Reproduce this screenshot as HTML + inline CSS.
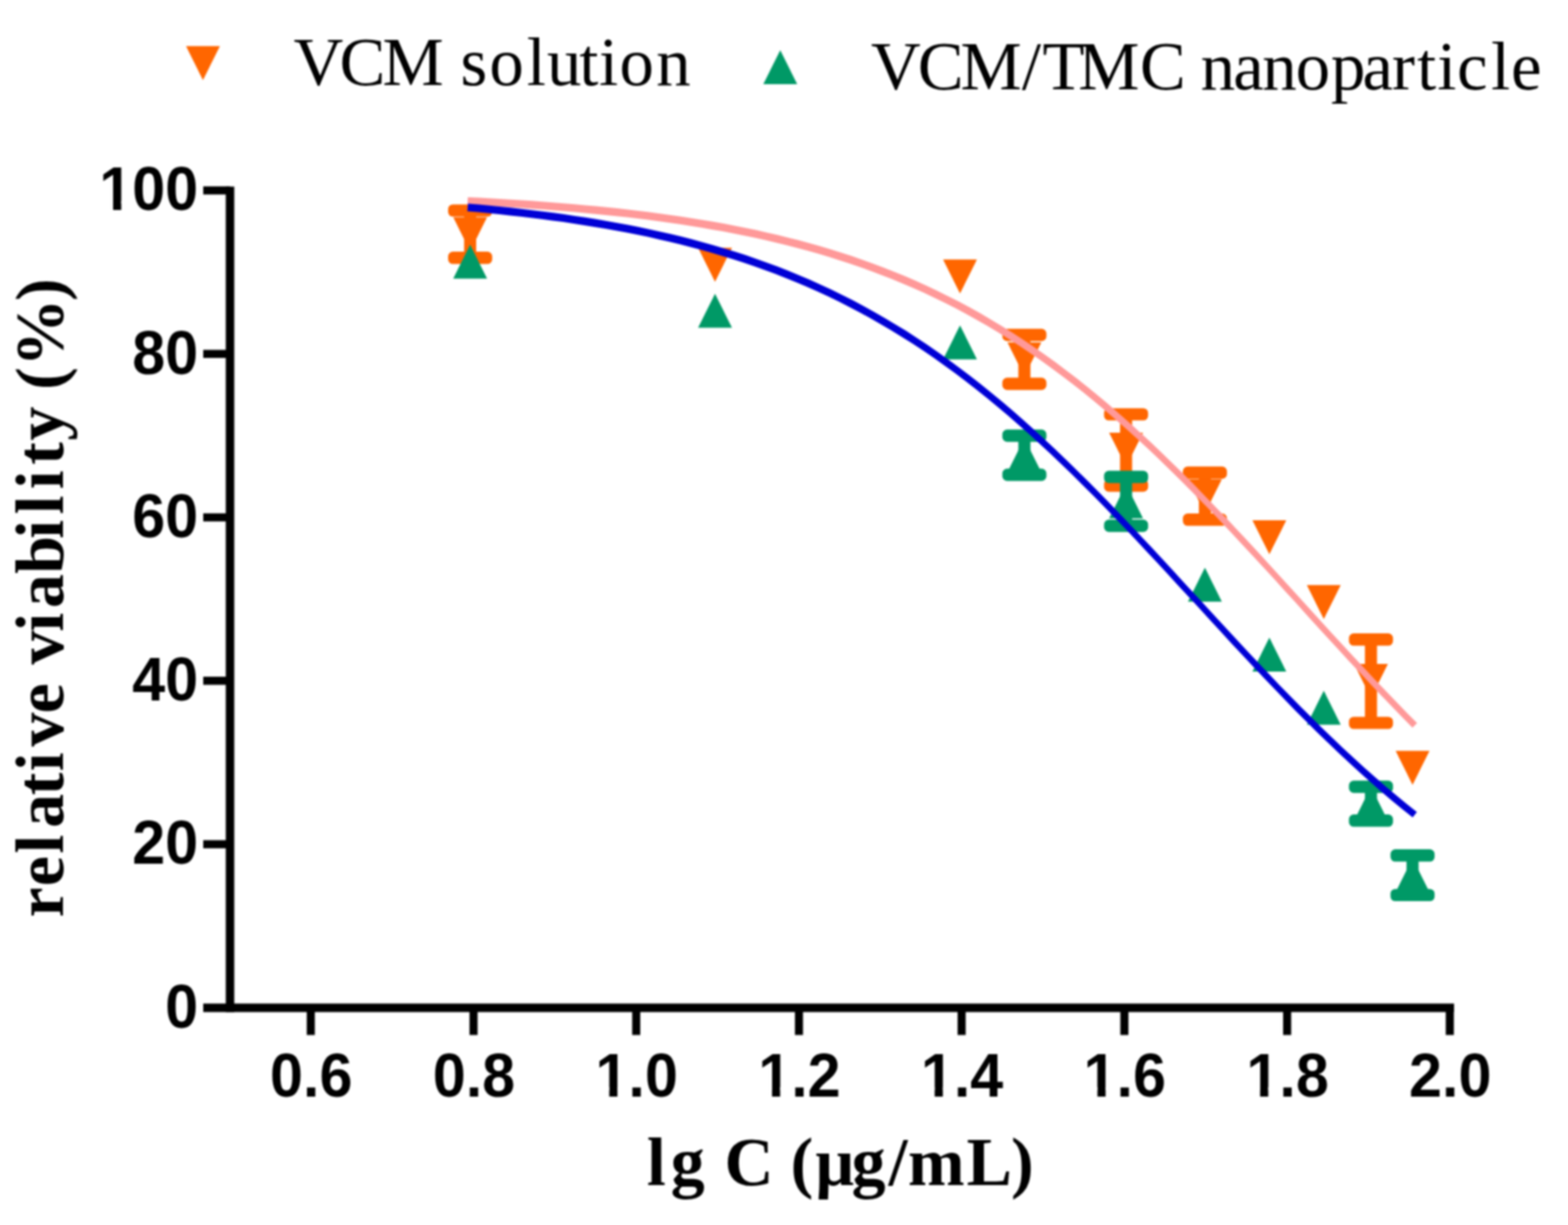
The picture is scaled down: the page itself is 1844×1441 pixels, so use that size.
<!DOCTYPE html>
<html lang="en">
<head>
<meta charset="utf-8">
<title>Relative viability vs lg C</title>
<style>
html,body{margin:0;padding:0;background:#fff;}
body{width:1844px;height:1441px;overflow:hidden;}
svg{display:block;}
.tick{font-family:"Liberation Sans",Arial,Helvetica,sans-serif;font-weight:700;font-size:71.5px;fill:#000;}
.leg{font-family:"Liberation Serif","Times New Roman",Times,serif;font-weight:400;font-size:81px;fill:#000;}
.ttl{font-family:"Liberation Serif","Times New Roman",Times,serif;font-weight:700;font-size:80px;fill:#000;}
</style>
</head>
<body>
<svg width="1844" height="1441" viewBox="0 0 1844 1441">
<defs><filter id="soft" x="0" y="0" width="1844" height="1441" filterUnits="userSpaceOnUse" color-interpolation-filters="sRGB"><feGaussianBlur stdDeviation="0.9"/></filter></defs>
<rect width="1844" height="1441" fill="#fff"/>
<g id="chart" filter="url(#soft)">
<rect x="-20" y="-20" width="1884" height="1481" fill="#fff"/>

<g id="legend">
<polygon points="218.8,54.3 258.6,54.3 238.7,94.3" fill="#FF6600"/>
<text class="leg" x="345.3 399.3 449.8 521.8 541.5 575.6 619.6 643.3 681.2 704.5 728.5 771.7" y="99.9">VCM solution</text>
<polygon points="897.7,99.0 937.5,99.0 917.6,59.0" fill="#009966"/>
<text class="leg" x="1024.3 1079.2 1129.4 1201.7 1225.9 1268.0 1340.6 1394.6 1411.9 1450.3 1484.4 1523.7 1565.3 1602.2 1637.1 1666.4 1690.2 1713.4 1753.4 1777.0" y="104.8">VCM/TMC nanoparticle</text>
</g>
<g id="axes" stroke="#000" fill="none">
<path d="M270.5,219.5V1190.4" stroke-width="10.0"/>
<path d="M239,1185.4H1710" stroke-width="10.0"/>
<path d="M239,993.1H270.5" stroke-width="9.5"/>
<path d="M239,800.8H270.5" stroke-width="9.5"/>
<path d="M239,608.6H270.5" stroke-width="9.5"/>
<path d="M239,416.3H270.5" stroke-width="9.5"/>
<path d="M239,224.0H270.5" stroke-width="9.5"/>
<path d="M365.5,1185.4V1217.5" stroke-width="9.5"/>
<path d="M556.9,1185.4V1217.5" stroke-width="9.5"/>
<path d="M748.2,1185.4V1217.5" stroke-width="9.5"/>
<path d="M939.6,1185.4V1217.5" stroke-width="9.5"/>
<path d="M1130.9,1185.4V1217.5" stroke-width="9.5"/>
<path d="M1322.3,1185.4V1217.5" stroke-width="9.5"/>
<path d="M1513.7,1185.4V1217.5" stroke-width="9.5"/>
<path d="M1705.0,1185.4V1217.5" stroke-width="9.5"/>
</g>
<g id="ylabels" class="tick" text-anchor="end">
<text transform="translate(233.1,1208.6) scale(0.975,1)">0</text>
<text transform="translate(233.1,1016.3) scale(0.975,1)">20</text>
<text transform="translate(233.1,824.0) scale(0.975,1)">40</text>
<text transform="translate(233.1,631.8) scale(0.975,1)">60</text>
<text transform="translate(233.1,439.5) scale(0.975,1)">80</text>
<text transform="translate(233.1,247.2) scale(0.975,1)">100</text>
</g>
<g id="xlabels" class="tick" text-anchor="middle">
<text transform="translate(366.0,1289.5) scale(0.975,1)">0.6</text>
<text transform="translate(557.4,1289.5) scale(0.975,1)">0.8</text>
<text transform="translate(748.7,1289.5) scale(0.975,1)">1.0</text>
<text transform="translate(940.1,1289.5) scale(0.975,1)">1.2</text>
<text transform="translate(1131.4,1289.5) scale(0.975,1)">1.4</text>
<text transform="translate(1322.8,1289.5) scale(0.975,1)">1.6</text>
<text transform="translate(1514.2,1289.5) scale(0.975,1)">1.8</text>
<text transform="translate(1705.5,1289.5) scale(0.975,1)">2.0</text>
</g>
<g id="digit-trim">
<rect x="119.8" y="236.5" width="13.2" height="12.5" fill="#fff"/><rect x="142.6" y="236.5" width="12.4" height="12.5" fill="#fff"/>
<rect x="703.3" y="1278.8" width="13.2" height="12.5" fill="#fff"/><rect x="726.1" y="1278.8" width="12.4" height="12.5" fill="#fff"/>
<rect x="894.7" y="1278.8" width="13.2" height="12.5" fill="#fff"/><rect x="917.5" y="1278.8" width="12.4" height="12.5" fill="#fff"/>
<rect x="1086.0" y="1278.8" width="13.2" height="12.5" fill="#fff"/><rect x="1108.8" y="1278.8" width="12.4" height="12.5" fill="#fff"/>
<rect x="1277.4" y="1278.8" width="13.2" height="12.5" fill="#fff"/><rect x="1300.2" y="1278.8" width="12.4" height="12.5" fill="#fff"/>
<rect x="1468.7" y="1278.8" width="13.2" height="12.5" fill="#fff"/><rect x="1491.5" y="1278.8" width="12.4" height="12.5" fill="#fff"/>
</g>
<text class="ttl" transform="translate(73.6,0) rotate(-90)" x="-1079.3 -1042.5 -1003.9 -973.7 -935.6 -907.2 -878.2 -839.3 -803.8 -781.8 -743.0 -715.2 -675.0 -633.7 -605.1 -575.6 -546.8 -518.3 -478.3 -458.4 -431.2 -354.1" y="0">relative viability (%)</text>
<text class="ttl" x="760.8 788.7 828.7 852.1 909.8 929.8 959.0 1001.5 1044.9 1067.8 1136.8 1189.0" y="1394.3">lg C (μg/mL)</text>
<g id="vcm">
<path d="M552.9,247.6V303.3" stroke="#FF6600" stroke-width="14.2" fill="none"/><rect x="527.0" y="240.4" width="51.8" height="14.4" rx="5.5" ry="5.5" fill="#FF6600"/><rect x="527.0" y="296.1" width="51.8" height="14.4" rx="5.5" ry="5.5" fill="#FF6600"/>
<polygon points="533.0,255.4 572.8,255.4 552.9,295.4" fill="#FF6600"/>
<polygon points="821.0,291.6 860.8,291.6 840.9,331.6" fill="#FF6600"/>
<polygon points="1109.1,305.3 1148.9,305.3 1129.0,345.3" fill="#FF6600"/>
<path d="M1204.7,394.0V451.5" stroke="#FF6600" stroke-width="14.2" fill="none"/><rect x="1178.8" y="386.8" width="51.8" height="14.4" rx="5.5" ry="5.5" fill="#FF6600"/><rect x="1178.8" y="444.3" width="51.8" height="14.4" rx="5.5" ry="5.5" fill="#FF6600"/>
<polygon points="1184.8,402.8 1224.6,402.8 1204.7,442.8" fill="#FF6600"/>
<path d="M1324.3,487.4V571.2" stroke="#FF6600" stroke-width="14.2" fill="none"/><rect x="1298.4" y="480.2" width="51.8" height="14.4" rx="5.5" ry="5.5" fill="#FF6600"/><rect x="1298.4" y="564.0" width="51.8" height="14.4" rx="5.5" ry="5.5" fill="#FF6600"/>
<polygon points="1304.4,509.0 1344.2,509.0 1324.3,549.0" fill="#FF6600"/>
<path d="M1417.0,556.0V611.3" stroke="#FF6600" stroke-width="14.2" fill="none"/><rect x="1391.1" y="548.8" width="51.8" height="14.4" rx="5.5" ry="5.5" fill="#FF6600"/><rect x="1391.1" y="604.1" width="51.8" height="14.4" rx="5.5" ry="5.5" fill="#FF6600"/>
<polygon points="1397.1,563.7 1436.9,563.7 1417.0,603.7" fill="#FF6600"/>
<polygon points="1472.9,612.0 1512.7,612.0 1492.8,652.0" fill="#FF6600"/>
<polygon points="1536.9,688.3 1576.7,688.3 1556.8,728.3" fill="#FF6600"/>
<path d="M1612.3,752.3V850.4" stroke="#FF6600" stroke-width="14.2" fill="none"/><rect x="1586.4" y="745.1" width="51.8" height="14.4" rx="5.5" ry="5.5" fill="#FF6600"/><rect x="1586.4" y="843.2" width="51.8" height="14.4" rx="5.5" ry="5.5" fill="#FF6600"/>
<polygon points="1592.4,781.0 1632.2,781.0 1612.3,821.0" fill="#FF6600"/>
<polygon points="1641.3,883.2 1681.1,883.2 1661.2,923.2" fill="#FF6600"/>
</g>
<g id="tmc">
<polygon points="533.0,327.7 572.8,327.7 552.9,287.7" fill="#009966"/>
<polygon points="821.0,385.6 860.8,385.6 840.9,345.6" fill="#009966"/>
<polygon points="1109.1,422.7 1148.9,422.7 1129.0,382.7" fill="#009966"/>
<path d="M1204.7,512.5V558.5" stroke="#009966" stroke-width="14.2" fill="none"/><rect x="1178.8" y="505.3" width="51.8" height="14.4" rx="5.5" ry="5.5" fill="#009966"/><rect x="1178.8" y="551.3" width="51.8" height="14.4" rx="5.5" ry="5.5" fill="#009966"/>
<polygon points="1184.8,555.5 1224.6,555.5 1204.7,515.5" fill="#009966"/>
<path d="M1324.3,561.0V618.5" stroke="#009966" stroke-width="14.2" fill="none"/><rect x="1298.4" y="553.8" width="51.8" height="14.4" rx="5.5" ry="5.5" fill="#009966"/><rect x="1298.4" y="611.3" width="51.8" height="14.4" rx="5.5" ry="5.5" fill="#009966"/>
<polygon points="1304.4,609.8 1344.2,609.8 1324.3,569.8" fill="#009966"/>
<polygon points="1397.1,707.8 1436.9,707.8 1417.0,667.8" fill="#009966"/>
<polygon points="1472.9,790.0 1512.7,790.0 1492.8,750.0" fill="#009966"/>
<polygon points="1536.9,852.4 1576.7,852.4 1556.8,812.4" fill="#009966"/>
<path d="M1612.3,925.5V965.3" stroke="#009966" stroke-width="14.2" fill="none"/><rect x="1586.4" y="918.3" width="51.8" height="14.4" rx="5.5" ry="5.5" fill="#009966"/><rect x="1586.4" y="958.1" width="51.8" height="14.4" rx="5.5" ry="5.5" fill="#009966"/>
<polygon points="1592.4,965.4 1632.2,965.4 1612.3,925.4" fill="#009966"/>
<path d="M1661.2,1006.3V1052.9" stroke="#009966" stroke-width="14.2" fill="none"/><rect x="1635.3" y="999.1" width="51.8" height="14.4" rx="5.5" ry="5.5" fill="#009966"/><rect x="1635.3" y="1045.7" width="51.8" height="14.4" rx="5.5" ry="5.5" fill="#009966"/>
<polygon points="1641.3,1049.6 1681.1,1049.6 1661.2,1009.6" fill="#009966"/>
</g>
<polygon points="550.2,231.9 562.8,232.5 575.3,233.2 587.8,233.9 600.3,234.7 612.9,235.5 625.4,236.3 637.9,237.2 650.5,238.2 663.0,239.2 675.5,240.3 688.1,241.4 700.6,242.6 713.2,243.8 725.7,245.1 738.2,246.5 750.8,248.0 763.3,249.6 775.9,251.2 788.4,252.9 801.0,254.8 813.5,256.7 826.1,258.7 838.6,260.8 851.2,263.1 863.7,265.5 876.3,268.0 888.9,270.6 901.4,273.4 914.0,276.3 926.6,279.4 939.1,282.6 951.7,286.0 964.3,289.5 976.8,293.3 989.4,297.2 1002.0,301.3 1014.5,305.7 1027.1,310.2 1039.7,314.9 1052.3,319.9 1064.8,325.1 1077.4,330.6 1090.0,336.2 1102.6,342.2 1115.1,348.4 1127.7,354.8 1140.3,361.6 1152.9,368.6 1165.4,375.9 1178.0,383.5 1190.5,391.3 1203.1,399.5 1215.7,408.0 1228.2,416.7 1240.8,425.8 1253.3,435.2 1265.9,444.8 1278.4,454.8 1290.9,465.1 1303.5,475.6 1316.0,486.4 1328.5,497.6 1341.1,509.0 1353.6,520.6 1366.1,532.5 1378.7,544.7 1391.2,557.0 1403.7,569.6 1416.2,582.4 1428.7,595.4 1441.3,608.6 1453.8,621.9 1466.3,635.3 1478.8,648.8 1491.3,662.5 1503.8,676.2 1516.4,689.9 1528.9,703.7 1541.4,717.4 1553.9,731.2 1566.4,744.9 1578.9,758.5 1591.4,772.1 1604.0,785.6 1616.5,798.9 1629.0,812.1 1641.5,825.1 1654.0,837.9 1666.5,850.6 1661.1,855.9 1648.6,843.2 1636.1,830.3 1623.5,817.2 1611.0,804.0 1598.5,790.6 1586.0,777.2 1573.5,763.6 1561.0,749.9 1548.4,736.2 1535.9,722.4 1523.4,708.6 1510.9,694.9 1498.4,681.1 1485.9,667.5 1473.4,653.9 1460.8,640.4 1448.3,627.0 1435.8,613.7 1423.3,600.6 1410.8,587.7 1398.3,575.0 1385.8,562.5 1373.3,550.2 1360.8,538.1 1348.3,526.3 1335.8,514.7 1323.3,503.5 1310.8,492.4 1298.3,481.7 1285.8,471.3 1273.3,461.1 1260.8,451.3 1248.3,441.8 1235.8,432.5 1223.4,423.6 1210.9,414.9 1198.4,406.6 1185.9,398.6 1173.5,390.8 1161.0,383.3 1148.6,376.2 1136.1,369.3 1123.6,362.6 1111.2,356.3 1098.7,350.2 1086.3,344.3 1073.8,338.8 1061.4,333.4 1048.9,328.3 1036.4,323.4 1024.0,318.7 1011.5,314.2 999.1,310.0 986.6,305.9 974.2,302.0 961.7,298.3 949.2,294.8 936.8,291.4 924.3,288.3 911.9,285.2 899.4,282.3 886.9,279.6 874.5,277.0 862.0,274.5 849.5,272.1 837.0,269.9 824.6,267.8 812.1,265.7 799.6,263.8 787.1,262.0 774.7,260.3 762.2,258.6 749.7,257.1 737.2,255.6 724.7,254.2 712.2,252.9 699.7,251.7 687.2,250.5 674.7,249.3 662.3,248.3 649.8,247.3 637.3,246.3 624.8,245.4 612.3,244.6 599.8,243.7 587.3,243.0 574.8,242.3 562.3,241.6 549.8,240.9" fill="#FF9999"/>
<polygon points="550.4,239.4 562.9,240.6 575.5,241.7 588.0,243.0 600.6,244.3 613.1,245.7 625.6,247.2 638.2,248.7 650.7,250.3 663.3,252.1 675.8,253.9 688.4,255.8 700.9,257.8 713.5,260.0 726.0,262.2 738.6,264.6 751.1,267.0 763.7,269.7 776.3,272.4 788.8,275.3 801.4,278.3 814.0,281.6 826.5,284.9 839.1,288.4 851.7,292.2 864.2,296.1 876.8,300.1 889.4,304.4 902.0,308.9 914.5,313.6 927.1,318.5 939.7,323.7 952.3,329.1 964.8,334.7 977.4,340.6 990.0,346.7 1002.6,353.1 1015.1,359.7 1027.7,366.7 1040.3,373.9 1052.8,381.4 1065.4,389.1 1077.9,397.2 1090.5,405.6 1103.0,414.2 1115.6,423.2 1128.1,432.4 1140.7,441.9 1153.2,451.8 1165.8,461.9 1178.3,472.3 1190.9,483.0 1203.4,494.0 1215.9,505.2 1228.4,516.7 1241.0,528.5 1253.5,540.4 1266.0,552.7 1278.5,565.1 1291.1,577.7 1303.6,590.5 1316.1,603.5 1328.6,616.7 1341.1,629.9 1353.7,643.3 1366.2,656.8 1378.7,670.3 1391.2,683.9 1403.7,697.5 1416.2,711.1 1428.8,724.7 1441.3,738.3 1453.8,751.8 1466.3,765.3 1478.8,778.6 1491.3,791.8 1503.8,804.9 1516.3,817.8 1528.8,830.5 1541.4,843.1 1553.9,855.4 1566.4,867.5 1578.9,879.4 1591.4,891.1 1603.9,902.5 1616.4,913.6 1628.9,924.4 1641.4,935.0 1653.8,945.3 1666.3,955.3 1661.3,961.6 1648.7,951.6 1636.2,941.2 1623.6,930.5 1611.1,919.5 1598.6,908.3 1586.1,896.8 1573.5,885.1 1561.0,873.1 1548.5,860.9 1536.0,848.5 1523.4,835.9 1510.9,823.1 1498.4,810.1 1485.9,797.0 1473.4,783.7 1460.8,770.3 1448.3,756.9 1435.8,743.3 1423.3,729.8 1410.8,716.1 1398.3,702.5 1385.7,688.9 1373.2,675.3 1360.7,661.8 1348.2,648.4 1335.7,635.0 1323.2,621.8 1310.7,608.7 1298.2,595.8 1285.7,583.1 1273.1,570.5 1260.6,558.1 1248.1,546.0 1235.6,534.1 1223.1,522.4 1210.6,511.0 1198.1,499.9 1185.6,489.1 1173.1,478.5 1160.7,468.2 1148.2,458.2 1135.7,448.5 1123.2,439.0 1110.7,429.9 1098.2,421.1 1085.8,412.6 1073.3,404.3 1060.8,396.4 1048.3,388.7 1035.9,381.4 1023.4,374.3 1011.0,367.5 998.5,360.9 986.0,354.6 973.6,348.6 961.1,342.8 948.7,337.3 936.2,332.0 923.8,326.9 911.3,322.1 898.9,317.4 886.4,313.0 873.9,308.8 861.5,304.8 849.0,300.9 836.6,297.2 824.1,293.7 811.6,290.4 799.2,287.2 786.7,284.2 774.3,281.4 761.8,278.6 749.3,276.0 736.8,273.6 724.4,271.2 711.9,269.0 699.4,266.9 687.0,264.9 674.5,263.0 662.0,261.1 649.5,259.4 637.0,257.8 624.5,256.3 612.1,254.8 599.6,253.4 587.1,252.1 574.6,250.8 562.1,249.6 549.6,248.5" fill="#0000D6"/>
</g>
</svg>
</body>
</html>
